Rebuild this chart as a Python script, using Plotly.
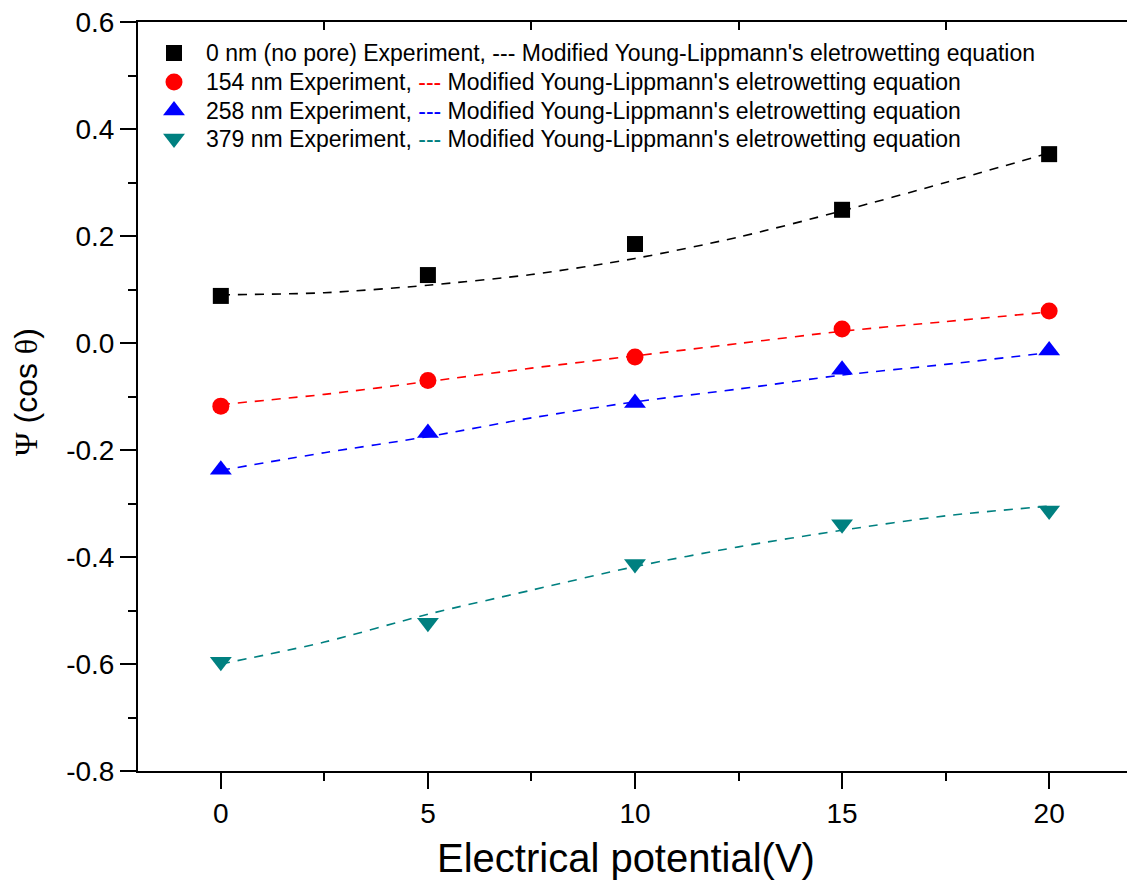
import plotly.graph_objects as go

# Applied voltage for the experimental points
voltage = [0, 5, 10, 15, 20]

# Measured cos(theta) values for each pore size
exp_0nm = [0.088, 0.127, 0.185, 0.249, 0.353]
exp_154nm = [-0.118, -0.070, -0.026, 0.026, 0.060]
exp_258nm = [-0.237, -0.168, -0.112, -0.050, -0.014]
exp_379nm = [-0.596, -0.523, -0.413, -0.339, -0.313]

# Modified Young-Lippmann model curves
model_voltage = [0, 2.5, 5, 7.5, 10, 12.5, 15, 17.5, 20]
model_0nm = [0.090, 0.094, 0.108, 0.128, 0.158, 0.198, 0.247, 0.300, 0.355]
model_154nm = [-0.115, -0.096, -0.072, -0.047, -0.024, -0.001, 0.022, 0.040, 0.058]
model_258nm = [-0.238, -0.205, -0.175, -0.140, -0.110, -0.086, -0.060, -0.040, -0.018]
model_379nm = [-0.600, -0.559, -0.507, -0.462, -0.418, -0.381, -0.350, -0.323, -0.305]

labels = ["0 nm (no pore)", "154 nm", "258 nm", "379 nm"]
colors = ["#000000", "#FF0000", "#0000FF", "#008080"]
symbols = ["square", "circle", "triangle-up", "triangle-down"]
sizes = [16, 17, 19, 19]
experiments = [exp_0nm, exp_154nm, exp_258nm, exp_379nm]
models = [model_0nm, model_154nm, model_258nm, model_379nm]

SANS = "Arial, Liberation Sans, sans-serif"
SERIF = "Times New Roman, Liberation Serif, serif"

# Figure geometry (pixels)
W, H = 1127, 888
M_L, M_R, M_T, M_B = 138, 0, 22, 117
PLOT_LEFT, PLOT_RIGHT = M_L, W - M_R
PLOT_TOP, PLOT_BOTTOM = M_T, H - M_B
PLOT_W, PLOT_H = PLOT_RIGHT - PLOT_LEFT, PLOT_BOTTOM - PLOT_TOP

# Legend layout in plot-pixel coordinates
LEG_SYMBOL_X = 174
LEG_TEXT_X = 204
LEG_ROWS_Y = [53, 82, 110.5, 138.5]

fig = go.Figure()

for model, color in zip(models, colors):
    fig.add_trace(go.Scatter(
        x=model_voltage, y=model, mode="lines",
        line=dict(color=color, width=1.6, dash="9px,8px", shape="spline", smoothing=0.8),
        showlegend=False, hoverinfo="skip",
    ))

for label, exp, color, symbol, size in zip(labels, experiments, colors, symbols, sizes):
    fig.add_trace(go.Scatter(
        x=voltage, y=exp, mode="markers", name=f"{label} Experiment",
        marker=dict(symbol=symbol, size=size, color=color, opacity=1, line=dict(width=0)),
        showlegend=False,
    ))

# Legend: symbols on a pixel-coordinate overlay, text as annotations
fig.add_trace(go.Scatter(
    x=[LEG_SYMBOL_X] * len(labels), y=LEG_ROWS_Y, xaxis="x3", yaxis="y3",
    mode="markers", showlegend=False, hoverinfo="skip",
    marker=dict(symbol=symbols, size=sizes, color=colors, opacity=1, line=dict(width=0)),
))
for label, color, row_y in zip(labels, colors, LEG_ROWS_Y):
    fig.add_annotation(
        xref="x3", yref="y3", x=LEG_TEXT_X, y=row_y,
        xanchor="left", yanchor="middle", showarrow=False,
        text=(f"{label} Experiment, <span style='color:{color}'>---</span> "
              "Modified Young-Lippmann's eletrowetting equation"),
        font=dict(size=23, family=SANS, color="#000000"),
    )

# Axis titles
fig.add_annotation(
    xref="paper", yref="paper",
    x=(626 - PLOT_LEFT) / PLOT_W, y=(PLOT_BOTTOM - 858) / PLOT_H,
    xanchor="center", yanchor="middle", showarrow=False,
    text="Electrical potential(V)", font=dict(size=40, family=SANS, color="#000000"),
)
fig.add_annotation(
    xref="paper", yref="paper",
    x=(26 - PLOT_LEFT) / PLOT_W, y=(PLOT_BOTTOM - 392) / PLOT_H,
    xanchor="center", yanchor="middle", showarrow=False, textangle=-90,
    text=(f"<span style='font-family:{SERIF}'>\u03a8</span> "
          f"(cos <span style='font-family:{SERIF}'>\u03b8</span>)"),
    font=dict(size=32, family=SANS, color="#000000"),
)

# invisible trace that carries the top axis (inward minor ticks)
fig.add_trace(go.Scatter(x=[0], y=[0], xaxis="x2", mode="markers",
                         marker=dict(opacity=0), showlegend=False, hoverinfo="skip"))

fig.update_layout(
    width=W, height=H,
    paper_bgcolor="white", plot_bgcolor="white",
    margin=dict(l=M_L, r=M_R, t=M_T, b=M_B),
    font=dict(family=SANS, color="#000000"),
    showlegend=False,
    xaxis=dict(
        range=[-2, 21.88], showgrid=False, zeroline=False,
        showline=True, linecolor="black", linewidth=2, mirror=True,
        tickmode="array", tickvals=[0, 5, 10, 15, 20],
        ticks="outside", ticklen=16, tickwidth=2, tickcolor="black",
        tickfont=dict(size=28),
        minor=dict(tickvals=[-2.5, 2.5, 7.5, 12.5, 17.5], ticks="outside",
                   ticklen=8, tickwidth=2, tickcolor="black"),
    ),
    xaxis2=dict(
        overlaying="x", side="top", matches="x", range=[-2, 21.88],
        showgrid=False, zeroline=False, showline=False, showticklabels=False,
        tickmode="array", tickvals=[2.5, 7.5, 12.5, 17.5],
        ticks="inside", ticklen=8, tickwidth=2, tickcolor="black",
    ),
    xaxis3=dict(overlaying="x", anchor="y3", range=[PLOT_LEFT, PLOT_RIGHT],
                visible=False, fixedrange=True),
    yaxis3=dict(overlaying="y", anchor="x3", range=[PLOT_BOTTOM, PLOT_TOP],
                visible=False, fixedrange=True),
    yaxis=dict(
        range=[-0.8, 0.6], showgrid=False, zeroline=False,
        showline=True, linecolor="black", linewidth=2, mirror=False,
        tickmode="array", tickvals=[-0.8, -0.6, -0.4, -0.2, 0.0, 0.2, 0.4, 0.6],
        ticktext=["-0.8", "-0.6", "-0.4", "-0.2", "0.0", "0.2", "0.4", "0.6"],
        ticks="outside", ticklen=16, tickwidth=2, tickcolor="black",
        tickfont=dict(size=28),
        minor=dict(tickvals=[-0.7, -0.5, -0.3, -0.1, 0.1, 0.3, 0.5], ticks="outside",
                   ticklen=8, tickwidth=2, tickcolor="black"),
    ),
)

fig.write_html("out.html")
